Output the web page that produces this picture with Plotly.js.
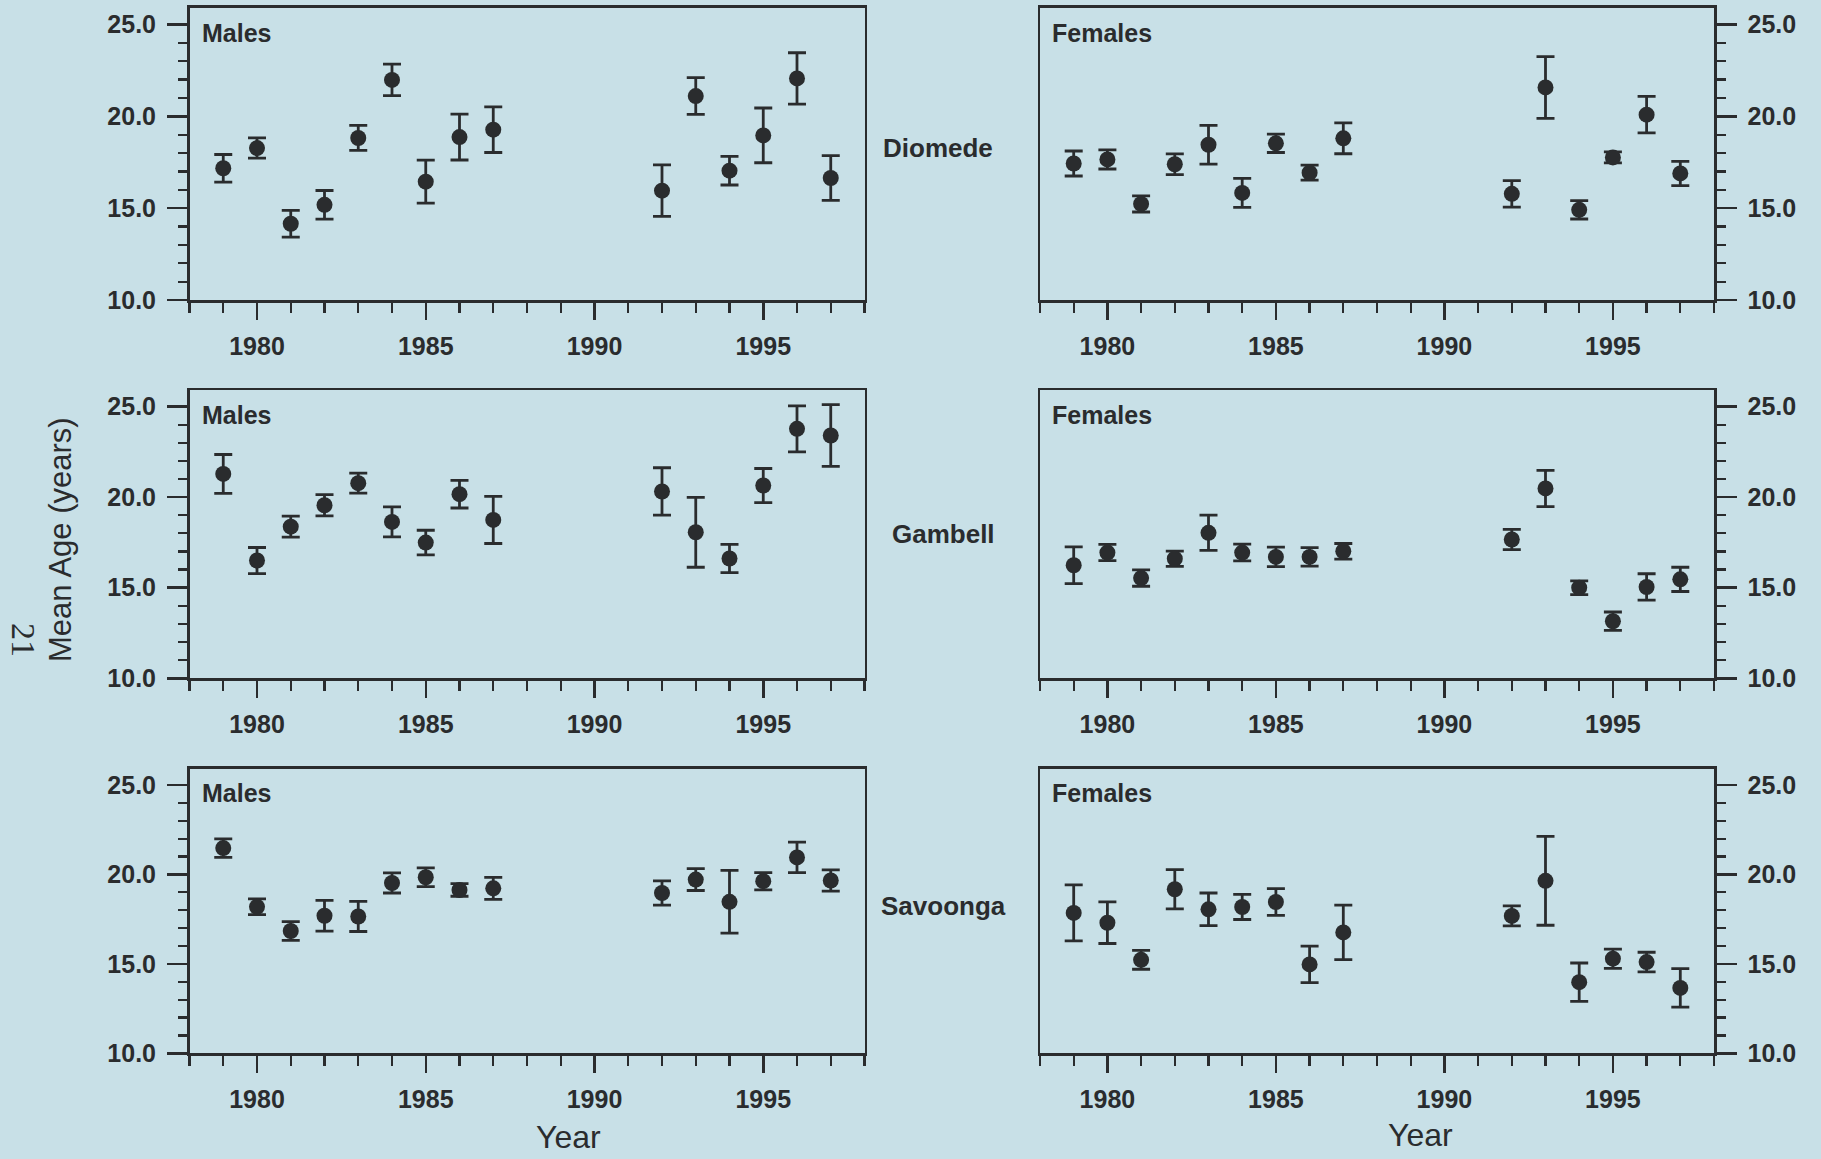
<!DOCTYPE html>
<html><head><meta charset="utf-8">
<script src="https://cdn.plot.ly/plotly-3.0.1.min.js"></script>
<style>html,body{margin:0;padding:0;background:#c8e0e7;} #chart{width:1821px;height:1159px;}</style>
</head><body><div id="chart"></div>
<script>
// ---- data ----
const years = [1979,1980,1981,1982,1983,1984,1985,1986,1987,1992,1993,1994,1995,1996,1997];

const diomedeMalesMean   = [17.17,18.27,14.15,15.18,18.82,21.98,16.44,18.87,19.27,15.95,21.10,17.04,18.96,22.06,16.64];
const diomedeMalesErr    = [0.75,0.55,0.73,0.78,0.68,0.86,1.17,1.25,1.24,1.40,1.00,0.78,1.49,1.40,1.22];
const diomedeFemalesMean = [17.43,17.65,15.23,17.39,18.45,15.83,18.53,16.93,18.80,15.78,21.57,14.91,17.76,20.09,16.89];
const diomedeFemalesErr  = [0.68,0.52,0.44,0.56,1.05,0.79,0.50,0.41,0.84,0.72,1.68,0.50,0.30,0.99,0.66];

const gambellMalesMean   = [21.28,16.50,18.37,19.55,20.77,18.63,17.49,20.16,18.74,20.31,18.06,16.61,20.64,23.77,23.40];
const gambellMalesErr    = [1.07,0.72,0.58,0.59,0.55,0.83,0.68,0.76,1.30,1.31,1.93,0.78,0.94,1.27,1.70];
const gambellFemalesMean = [16.24,16.94,15.53,16.60,18.03,16.94,16.70,16.70,17.01,17.66,20.48,15.00,13.15,15.04,15.46];
const gambellFemalesErr  = [1.01,0.45,0.45,0.42,0.97,0.46,0.54,0.51,0.43,0.56,1.00,0.38,0.51,0.73,0.67];

const savoongaMalesMean   = [21.47,18.19,16.84,17.69,17.65,19.52,19.84,19.13,19.22,18.96,19.71,18.47,19.62,20.95,19.66];
const savoongaMalesErr    = [0.52,0.44,0.52,0.86,0.84,0.56,0.52,0.35,0.61,0.68,0.61,1.75,0.48,0.85,0.59];
const savoongaFemalesMean = [17.85,17.30,15.23,19.17,18.05,18.18,18.46,14.97,16.76,17.68,19.64,13.98,15.29,15.10,13.66];
const savoongaFemalesErr  = [1.56,1.16,0.53,1.10,0.91,0.70,0.75,1.02,1.52,0.56,2.48,1.07,0.54,0.55,1.08];

const sites = ['Diomede','Gambell','Savoonga'];
const sexes = ['Males','Females'];
const xTickVals = [1980,1985,1990,1995];
const yTickVals = [10,15,20,25];
const yAxisTitle = 'Mean Age (years)';
const xAxisTitle = 'Year';
const pageNumber = '21';

const panelMeans = [[diomedeMalesMean, diomedeFemalesMean],[gambellMalesMean, gambellFemalesMean],[savoongaMalesMean, savoongaFemalesMean]];
const panelErrs  = [[diomedeMalesErr, diomedeFemalesErr],[gambellMalesErr, gambellFemalesErr],[savoongaMalesErr, savoongaFemalesErr]];

// ---- styling / geometry ----
const W = 1821, H = 1159;
const ink = '#2a2c2e';
const bg = '#c8e0e7';
const colDomains = [[189.5/W, 864.5/W],[1040/W, 1714/W]];
const rowPx = [[7.9,300],[390.2,678.3],[768.8,1053.4]]; // top, bottom in px
const rowDomains = rowPx.map(p => [1 - p[1]/H, 1 - p[0]/H]);
const tickFont = {family:'Liberation Sans, Arial, sans-serif', size:25, color:ink, weight:'bold'};

const traces = [];
const layout = {
  width: W, height: H,
  margin: {l:0,r:0,t:0,b:0},
  paper_bgcolor: bg, plot_bgcolor: bg,
  showlegend: false, hovermode: false,
  annotations: []
};

for (let r = 0; r < 3; r++) {
  for (let c = 0; c < 2; c++) {
    const k = r*2 + c + 1;
    const xa = 'x' + (k === 1 ? '' : k), ya = 'y' + (k === 1 ? '' : k);
    traces.push({
      type: 'scatter', mode: 'markers', x: years, y: panelMeans[r][c],
      xaxis: xa, yaxis: ya,
      marker: {symbol:'circle', size:16, color: ink},
      error_y: {type:'data', array: panelErrs[r][c], visible:true, color: ink, thickness: 2.8, width: 9}
    });
    const xName = 'xaxis' + (k === 1 ? '' : k), yName = 'yaxis' + (k === 1 ? '' : k);
    layout[xName] = {
      domain: colDomains[c], anchor: ya, range: [1978, 1998],
      tickmode: 'array', tickvals: xTickVals, ticks: 'outside', ticklen: 17, tickwidth: 2.5, tickcolor: ink,
      minor: {dtick: 1, tick0: 1978, ticks: 'outside', ticklen: 10, tickwidth: 2.2, tickcolor: ink, showgrid: false},
      showline: true, mirror: true, linecolor: ink, linewidth: 2.5,
      showgrid: false, zeroline: false, tickfont: tickFont, ticklabelstandoff: 5, fixedrange: true
    };
    layout[yName] = {
      domain: rowDomains[r], anchor: xa, range: [10, 25.9], side: c === 0 ? 'left' : 'right',
      tickmode: 'array', tickvals: yTickVals, tickformat: '.1f', ticks: 'outside', ticklen: 20, tickwidth: 2.5, tickcolor: ink,
      minor: {dtick: 1, tick0: 10, ticks: 'outside', ticklen: 9, tickwidth: 2.2, tickcolor: ink, showgrid: false},
      showline: true, mirror: true, linecolor: ink, linewidth: 2.5,
      showgrid: false, zeroline: false, tickfont: tickFont, ticklabelstandoff: 6, fixedrange: true
    };
    // panel label (Males / Females)
    layout.annotations.push({
      xref:'paper', yref:'paper', x: (c === 0 ? 200 : 1050)/W, y: 1 - [32.5,414.6,793][r]/H,
      xanchor:'left', yanchor:'middle', showarrow:false, text: sexes[c],
      font: {family:'Liberation Sans, Arial, sans-serif', size:25, color:ink, weight:'bold'}
    });
  }
  // site label
  layout.annotations.push({
    xref:'paper', yref:'paper', x: [938,944,944][r]/W, y: 1 - [147.5,534,906][r]/H,
    xanchor:'center', yanchor:'middle', showarrow:false, text: sites[r],
    font: {family:'Liberation Sans, Arial, sans-serif', size:26, color:ink, weight:'bold'}
  });
}

// axis titles & page number
layout.annotations.push({xref:'paper', yref:'paper', x: 60/W, y: 1 - 540/H, xanchor:'center', yanchor:'middle',
  showarrow:false, text: yAxisTitle, textangle: -90, font:{family:'Liberation Sans, Arial, sans-serif', size:31, color:ink}});
layout.annotations.push({xref:'paper', yref:'paper', x: 568/W, y: 1 - 1137/H, xanchor:'center', yanchor:'middle', borderpad:0,
  showarrow:false, text: xAxisTitle, font:{family:'Liberation Sans, Arial, sans-serif', size:32, color:ink}});
layout.annotations.push({xref:'paper', yref:'paper', x: 1420/W, y: 1 - 1135/H, xanchor:'center', yanchor:'middle', borderpad:0,
  showarrow:false, text: xAxisTitle, font:{family:'Liberation Sans, Arial, sans-serif', size:32, color:ink}});
layout.annotations.push({xref:'paper', yref:'paper', x: 24/W, y: 1 - 640/H, xanchor:'center', yanchor:'middle',
  showarrow:false, text: pageNumber, textangle: 90, font:{family:'Liberation Serif, Times New Roman, serif', size:34, color:ink}});

Plotly.newPlot('chart', traces, layout, {staticPlot: true, displayModeBar: false});
</script>
</body></html>
